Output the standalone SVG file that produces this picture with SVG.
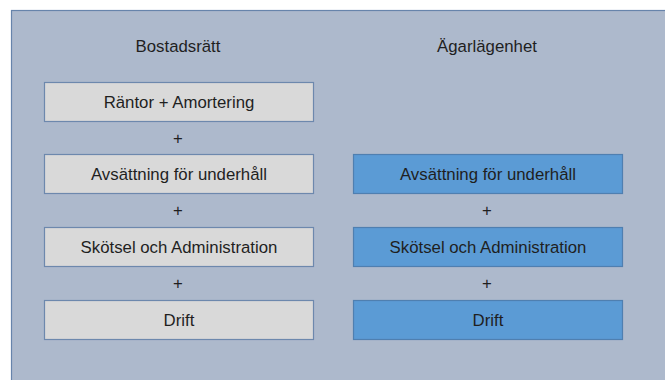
<svg xmlns="http://www.w3.org/2000/svg" width="665" height="380" viewBox="0 0 665 380">
<style>
.t{font-family:"Liberation Sans",Arial,sans-serif;font-size:16.8px;fill:#1f1f1f;text-anchor:middle;dominant-baseline:central}
.g{fill:#d9d9d9;stroke:#6d88ad;stroke-width:1.2}
.b{fill:#5b9bd5;stroke:#4f7fb0;stroke-width:1.2}
</style>
<rect id="frame" x="11.5" y="10.5" width="670" height="380" fill="#adb9cc" stroke="#6784ab" stroke-width="1.2"/>
<g id="title-left"><text class="t" x="178" y="46">Bostadsrätt</text></g>
<g id="title-right"><text class="t" x="487" y="46">Ägarlägenhet</text></g>
<g id="n1"><rect class="g" x="44.5" y="82.5" width="269" height="39"/><text class="t" x="179" y="102">Räntor + Amortering</text></g>
<g id="n2"><rect class="g" x="44.5" y="154.5" width="269" height="39"/><text class="t" x="179" y="174">Avsättning för underhåll</text></g>
<g id="n3"><rect class="g" x="44.5" y="227.5" width="269" height="39"/><text class="t" x="179" y="247">Skötsel och Administration</text></g>
<g id="n4"><rect class="g" x="44.5" y="300.5" width="269" height="39"/><text class="t" x="179" y="320">Drift</text></g>
<g id="n5"><rect class="b" x="353.5" y="154.5" width="269" height="39"/><text class="t" x="488" y="174">Avsättning för underhåll</text></g>
<g id="n6"><rect class="b" x="353.5" y="227.5" width="269" height="39"/><text class="t" x="488" y="247">Skötsel och Administration</text></g>
<g id="n7"><rect class="b" x="353.5" y="300.5" width="269" height="39"/><text class="t" x="488" y="320">Drift</text></g>
<g id="connectors">
<text class="t" x="178" y="138">+</text>
<text class="t" x="178" y="210">+</text>
<text class="t" x="178" y="283">+</text>
<text class="t" x="487" y="210">+</text>
<text class="t" x="487" y="283">+</text>
</g>
</svg>
